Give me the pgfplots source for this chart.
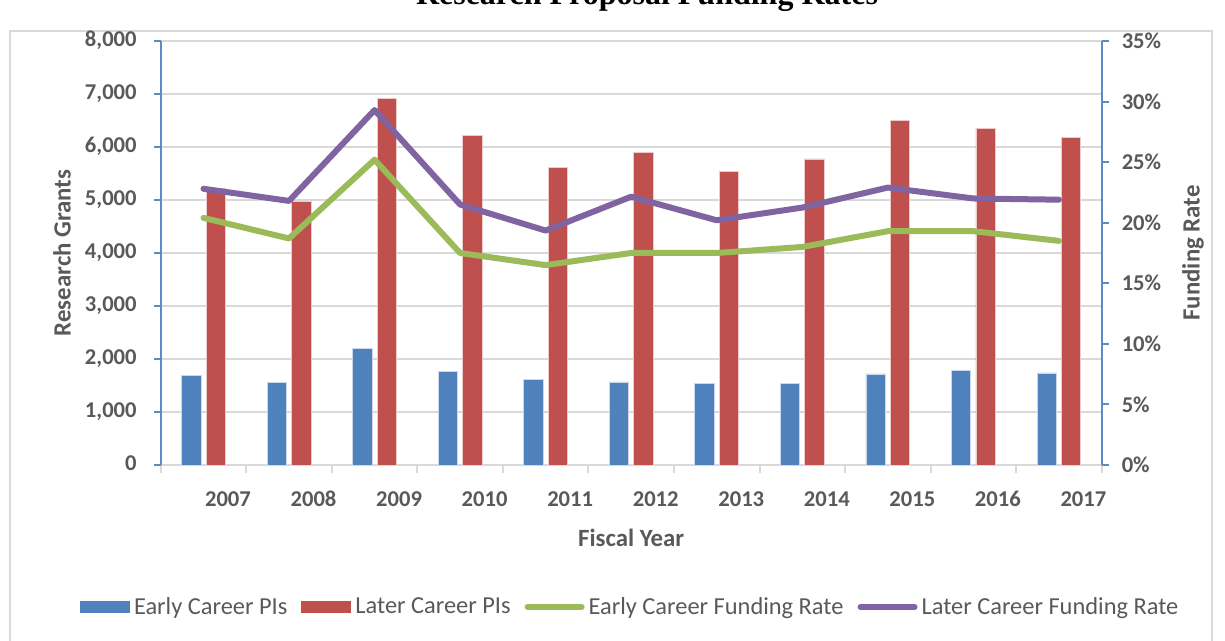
\documentclass[border=0pt]{standalone}
\usepackage{fontspec}
\setmainfont{Carlito}
\newfontfamily\titlefont{Liberation Serif}
\usepackage{pgfplots}
\usepackage{pgfplotstable}
\pgfplotsset{compat=1.18}

\definecolor{barblue}{HTML}{4F81BD}
\definecolor{barred}{HTML}{C0504D}
\definecolor{linegreen}{HTML}{9BBB59}
\definecolor{linepurple}{HTML}{8064A2}
\definecolor{axisblue}{HTML}{5B8CC8}
\definecolor{gridgray}{HTML}{D9D9D9}
\definecolor{textgray}{HTML}{595959}

% fiscal year index, grants (left axis), funding rates in % (right axis)
\pgfplotstableread{
idx early later erate lrate
0   1698  5221  20.4  22.8
1   1560  4981  18.7  21.8
2   2194  6919  25.2  29.3
3   1760  6213  17.5  21.5
4   1617  5610  16.5  19.35
5   1566  5900  17.5  22.15
6   1541  5534  17.5  20.2
7   1541  5774  18.0  21.25
8   1717  6509  19.3  22.9
9   1787  6358  19.3  22.0
10  1736  6183  18.5  21.9
}\datatbl

\pgfplotsset{
  chartbase/.style={
    width=470.5pt, height=212pt, scale only axis,
    xmin=-0.5, xmax=10.5,
    tick align=outside, major tick length=3.5pt,
    ticklabel style={font=\bfseries\fontsize{11.3}{13}\selectfont, text=textgray},
    /pgf/number format/assume math mode=true,
    y axis line style={draw=axisblue, line width=1pt, -},
    y tick style={draw=axisblue, line width=1pt},
  },
  linelegend/.style={legend image code/.code={\draw[##1] (0pt,0pt) -- (27pt,0pt);}},
  barlegend/.style={legend image code/.code={\fill[##1] (0pt,-3pt) rectangle (25pt,3pt);}},
}

\begin{document}
\begin{tikzpicture}
\useasboundingbox (-80.35pt,-88pt) rectangle (532.15pt,232.5pt);
\draw[gridgray, line width=1pt] (-75.35pt,-95pt) -- (-75.35pt,217pt) -- (525.65pt,217pt) -- (525.65pt,-95pt);

\begin{axis}[chartbase,
  ymin=0, ymax=8000, ytick={0,1000,...,8000},
  /pgf/number format/1000 sep={,},
  axis x line*=bottom, axis y line*=left, xtick pos=bottom, ytick pos=left,
  x axis line style={draw=gridgray, line width=1pt, -},
  ymajorgrids, grid style={draw=gridgray, line width=0.9pt},
  xtick={0,...,10},
  xticklabels={2007,2008,2009,2010,2011,2012,2013,2014,2015,2016,2017},
  minor xtick={-0.5,0.5,...,10.5}, minor tick length=4pt,
  every major x tick/.append style={draw=none},
  every minor x tick/.append style={draw=gridgray, line width=1pt},
  typeset ticklabels with strut,
  xticklabel style={xshift=12.25pt, yshift=-4.5pt},
  yticklabel style={xshift=-5pt},
  xlabel={Fiscal Year}, ylabel={Research Grants},
  every axis x label/.style={at={(axis description cs:0.5,-0.172)}, anchor=center,
    font=\bfseries\fontsize{12.4}{14}\selectfont, text=textgray},
  every axis y label/.style={at={(axis description cs:-0.1049,0.5)}, rotate=90, anchor=center,
    font=\bfseries\fontsize{12.4}{14}\selectfont, text=textgray},
]
\addplot[ybar, bar width=0.226, bar shift=-0.143, fill=barblue, draw=white!70!barblue, line width=0.4pt]
  table[x=idx, y=early]{\datatbl};
\addplot[ybar, bar width=0.226, bar shift=0.143, fill=barred, draw=white!70!barred, line width=0.4pt]
  table[x=idx, y=later]{\datatbl};
\end{axis}

\begin{axis}[chartbase,
  ymin=0, ymax=35, ytick={0,5,...,35},
  axis y line*=right, ytick pos=right, axis x line=none,
  yticklabel={\pgfmathprintnumber{\tick}\%},
  yticklabel style={xshift=3pt},
  ylabel={Funding Rate},
  every axis y label/.style={at={(axis description cs:1.097,0.5)}, rotate=90, anchor=center,
    font=\bfseries\fontsize{12.4}{14}\selectfont, text=textgray},
  legend style={at={(0.5,-0.335)}, anchor=center, draw=none, fill=none,
    legend columns=4, font=\fontsize{12.2}{14}\selectfont, text=textgray,
    /tikz/every even column/.append style={column sep=5pt},
    /tikz/every odd column/.append style={column sep=0pt}},
]
\addlegendimage{barlegend, fill=barblue, draw=none}
\addlegendentry{Early Career PIs}
\addlegendimage{barlegend, fill=barred, draw=none}
\addlegendentry{Later Career PIs}
\addplot[linelegend, linegreen, line width=3pt, line join=round, line cap=round]
  table[x=idx, y=erate]{\datatbl};
\addlegendentry{Early Career Funding Rate}
\addplot[linelegend, linepurple, line width=3pt, line join=round, line cap=round]
  table[x=idx, y=lrate]{\datatbl};
\addlegendentry{Later Career Funding Rate}
\end{axis}

\node[font=\titlefont\bfseries\fontsize{16}{18}\selectfont, anchor=base] at (243.15pt,230pt)
  {Research Proposal Funding Rates};
\end{tikzpicture}
\end{document}
